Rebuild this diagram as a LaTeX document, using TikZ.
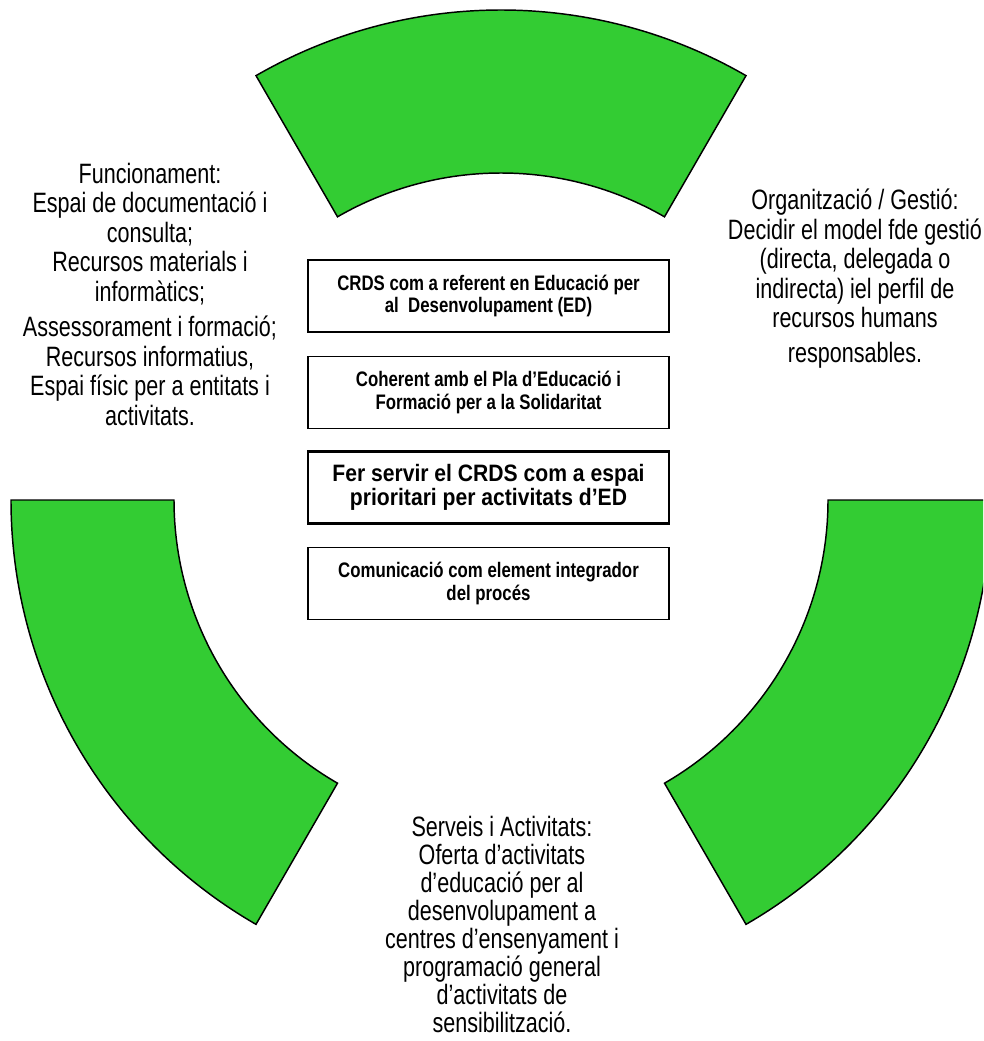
\documentclass[tikz,border=0pt]{standalone}
\usepackage{fontspec}
\setmainfont{Liberation Sans}
\newfontfamily\sidefont[FakeStretch=0.77]{Liberation Sans}
\newfontfamily\boxfont[FakeStretch=0.8]{Liberation Sans}
\newfontfamily\boxbigfont[FakeStretch=0.89]{Liberation Sans}
\definecolor{sectgreen}{RGB}{51,204,51}
\tikzset{
  sector/.style={fill=sectgreen, draw=black, line width=1.1pt, line join=miter},
  cbox/.style={draw=black, line width=1.1pt, minimum width=270.75pt, minimum height=54pt,
    align=center, inner sep=0pt, font=\boxfont\bfseries\fontsize{15.75pt}{16.9pt}\selectfont},
  cboxbig/.style={cbox, line width=1.6pt, font=\boxbigfont\bfseries\fontsize{17.8pt}{17.6pt}\selectfont},
  sidetxt/.style={align=center, inner sep=0pt, anchor=base, font=\sidefont\fontsize{21pt}{22.1pt}\selectfont},
}
\begin{document}
\begin{tikzpicture}[x=0.75pt,y=-0.75pt]
\useasboundingbox (0,0) rectangle (983,1041);
\clip (0,0) rectangle (983,1041);
\begin{scope}[shift={(501,500)}]
  \draw[sector] (60:367.5pt) arc[start angle=60,end angle=120,radius=367.5pt]
     -- (120:245.25pt) arc[start angle=120,end angle=60,radius=245.25pt] -- cycle;
  \draw[sector] (180:367.5pt) arc[start angle=180,end angle=240,radius=367.5pt]
     -- (240:245.25pt) arc[start angle=240,end angle=180,radius=245.25pt] -- cycle;
  \draw[sector] (300:367.5pt) arc[start angle=300,end angle=360,radius=367.5pt]
     -- (360:245.25pt) arc[start angle=360,end angle=300,radius=245.25pt] -- cycle;
\end{scope}

\node[cbox] (b1) at (488.5,296) {CRDS com a referent en Educació per\\al~~Desenvolupament (ED)};
\node[cbox] (b2) at (488.5,392.5) {Coherent amb el Pla d’Educació i\\Formació per a la Solidaritat};
\node[cboxbig] (b3) at (488.5,487.5) {Fer servir el CRDS com a espai\\prioritari per activitats d’ED};
\node[cbox] (b4) at (488.5,583.5) {Comunicació com element integrador\\del procés};

\node[sidetxt] (left) at (150,425) {Funcionament:\\Espai de documentació i\\consulta;\\Recursos materials i\\informàtics;\\[4.5pt]Assessorament i formació;\\Recursos informatius,\\Espai físic per a entitats i\\activitats.};
\node[sidetxt] (right) at (855,362) {Organització / Gestió:\\Decidir el model fde gestió\\(directa, delegada o\\indirecta) iel perfil de\\recursos humans\\[3.75pt]responsables.};
\node[sidetxt, font=\sidefont\fontsize{21pt}{21pt}\selectfont] (bottom) at (502,1032) {Serveis i Activitats:\\Oferta d’activitats\\d’educació per al\\desenvolupament a\\centres d’ensenyament i\\programació general\\d’activitats de\\sensibilització.};
\end{tikzpicture}
\end{document}
